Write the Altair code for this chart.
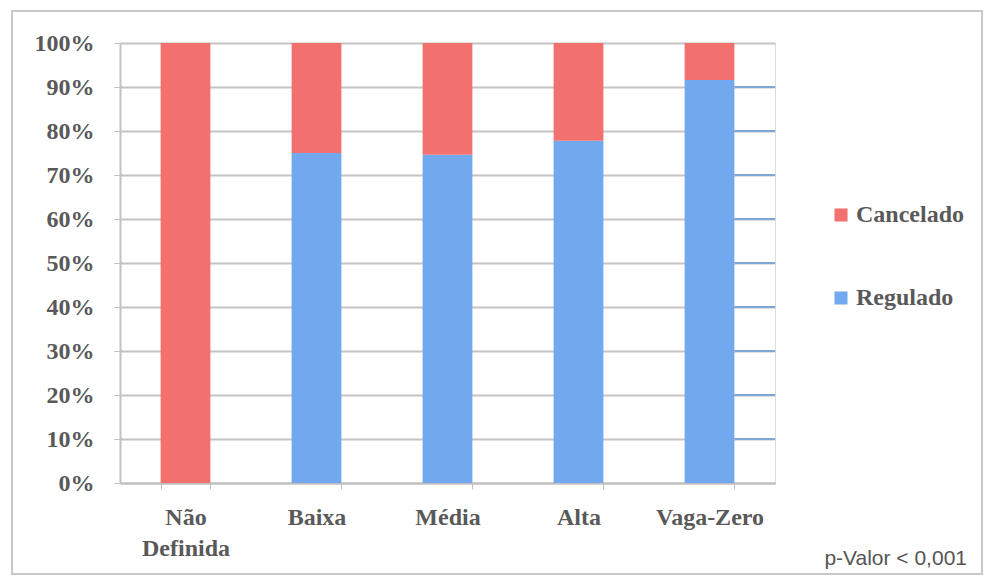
import altair as alt
import pandas as pd

# Categories and shares (%) per outcome
categorias = ["Não Definida", "Baixa", "Média", "Alta", "Vaga-Zero"]
regulado = [0.0, 75.0, 74.6, 77.8, 91.6]
cancelado = [100 - v for v in regulado]
nota = ["p-Valor < 0,001"]

rows = []
for c, r, k in zip(categorias, regulado, cancelado):
    rows.append({"cat": c, "status": "Regulado", "valor": r / 100, "ord": 0})
    rows.append({"cat": c, "status": "Cancelado", "valor": k / 100, "ord": 1})
df = pd.DataFrame(rows)

TXT = "#595959"
SERIF = "Liberation Serif"
W, H = 655, 440

xenc = alt.X(
    "cat:N",
    sort=categorias,
    title=None,
    scale=alt.Scale(paddingInner=0.62, paddingOuter=0.31),
    axis=alt.Axis(
        labelAngle=0,
        labelFont=SERIF,
        labelFontSize=24,
        labelFontWeight="bold",
        labelColor=TXT,
        labelPadding=16,
        labelLineHeight=31,
        labelExpr="split(datum.label, ' ')",
        tickBand="extent",
        tickSize=6,
        tickColor="#BFBFBF",
        domainColor="#BFBFBF",
        domainWidth=2,
        grid=False,
    ),
)

bars = alt.Chart(df).mark_bar().encode(
    x=xenc,
    y=alt.Y(
        "valor:Q",
        stack="zero",
        title=None,
        scale=alt.Scale(domain=[0, 1], nice=False),
        axis=alt.Axis(
            values=[i / 10 for i in range(11)],
            format=".0%",
            labelFont=SERIF,
            labelFontSize=24,
            labelFontWeight="bold",
            labelColor=TXT,
            labelPadding=20,
            tickSize=6,
            tickColor="#BFBFBF",
            domainColor="#C8C0C0",
            domainWidth=2,
            gridColor="#C4C4C4",
            gridWidth=2,
        ),
    ),
    color=alt.Color(
        "status:N",
        scale=alt.Scale(domain=["Cancelado", "Regulado"], range=["#F2716F", "#72A9EE"]),
        legend=alt.Legend(
            title=None,
            orient="none",
            legendX=709,
            legendY=160,
            symbolType="square",
            symbolSize=170,
            symbolStrokeWidth=0,
            labelFont=SERIF,
            labelFontSize=24,
            labelFontWeight="bold",
            labelColor=TXT,
            labelOffset=3,
            rowPadding=59,
        ),
    ),
    order=alt.Order("ord:Q"),
)

# Gridlines to the right of the last bar are drawn in blue
blue_grid = pd.DataFrame({"cat": "Vaga-Zero", "g": [i / 10 for i in range(1, 10)]})
grid_seg = alt.Chart(blue_grid).mark_rule(color="#7EA6D8", strokeWidth=2).encode(
    x=alt.X("cat:N", sort=categorias, bandPosition=1),
    x2=alt.value(W),
    y="g:Q",
)

# Outer frame around the whole figure
frame = alt.Chart(pd.DataFrame({"f": [0]})).mark_rect(
    fill=None, stroke="#C8C8C8", strokeWidth=2
).encode(
    x=alt.value(12 - 120), x2=alt.value(982 - 120),
    y=alt.value(11 - 43), y2=alt.value(574 - 43),
)

pval = alt.Chart(pd.DataFrame({"t": nota})).mark_text(
    font="Liberation Sans", fontSize=21, color="#555555", align="right", baseline="alphabetic"
).encode(
    text="t:N", x=alt.value(967 - 120), y=alt.value(565 - 43)
)

chart = alt.layer(bars, grid_seg, frame, pval).properties(
    width=W,
    height=H,
    autosize=alt.AutoSizeParams(type="none"),
    padding={"left": 120, "top": 43, "right": 984 - 120 - W, "bottom": 575 - 43 - H},
).configure_view(stroke=None).configure(background="white")

chart.save("out.html", embed_options={"renderer": "svg", "actions": False})
